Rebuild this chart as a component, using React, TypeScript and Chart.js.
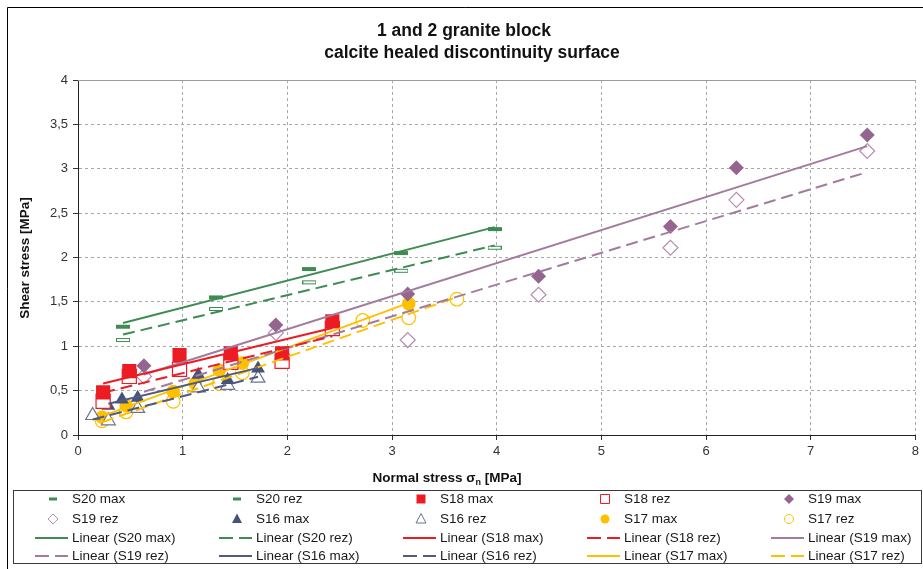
import React, { useEffect, useRef } from 'react';
import { Chart, registerables } from 'chart.js';

Chart.register(...registerables);

const FONT = '"Liberation Sans", Arial, Helvetica, sans-serif';

// ---------- data ----------
const X_TICKS = [0, 1, 2, 3, 4, 5, 6, 7, 8];
const Y_TICKS = [0, 0.5, 1, 1.5, 2, 2.5, 3, 3.5, 4];

const S20_X = [0.43, 1.32, 2.21, 3.09, 3.98];
const S20_MAX = [1.22, 1.55, 1.87, 2.05, 2.32];
const S20_REZ = [1.07, 1.42, 1.72, 1.85, 2.11];

const S18_X = [0.24, 0.49, 0.97, 1.46, 1.95, 2.43];
const S18_MAX = [0.48, 0.72, 0.9, 0.92, 0.92, 1.28];
const S18_REZ = [0.38, 0.66, 0.74, 0.82, 0.83, 1.2];

const S19_X = [0.63, 1.89, 3.15, 4.4, 5.66, 6.29, 7.54];
const S19_MAX = [0.78, 1.24, 1.59, 1.79, 2.35, 3.01, 3.38];
const S19_REZ = [0.66, 1.15, 1.07, 1.58, 2.11, 2.65, 3.2];

const S16_MAX_X = [0.29, 0.42, 0.57, 1.15, 1.43, 1.72];
const S16_MAX = [0.33, 0.4, 0.42, 0.68, 0.62, 0.75];
const S16_REZ_X = [0.14, 0.29, 0.57, 1.15, 1.43, 1.72];
const S16_REZ = [0.22, 0.16, 0.3, 0.53, 0.56, 0.64];

const S17_MAX_X = [0.23, 0.46, 0.91, 1.12, 1.35, 1.57, 3.16];
const S17_MAX = [0.2, 0.33, 0.49, 0.58, 0.73, 0.81, 1.48];
const S17_REZ_X = [0.23, 0.46, 0.91, 1.35, 1.57, 2.72, 3.16, 3.62];
const S17_REZ = [0.16, 0.26, 0.38, 0.58, 0.7, 1.29, 1.32, 1.53];

// ---------- styles ----------
const GREEN = '#3e8c53';
const RED = '#ec1c24';
const PURPLE = '#93658f';
const PURPLE_LIGHT = '#b48fb0';
const PURPLE_LINE = '#a27b9e';
const NAVY = '#46527a';
const NAVY_LIGHT = '#6b7493';
const NAVY_LINE = '#4f5b82';
const YELLOW = '#ffc000';

type Kind = 'dash' | 'square' | 'diamond' | 'triangle' | 'circle';
interface SeriesDef {
  label: string;
  xs: number[];
  ys: number[];
  kind: Kind;
  filled: boolean;
  color: string;
  lineColor: string;
  dashed: boolean;
}

const SERIES: SeriesDef[] = [
  { label: 'S20 max', xs: S20_X, ys: S20_MAX, kind: 'dash', filled: true, color: GREEN, lineColor: GREEN, dashed: false },
  { label: 'S20 rez', xs: S20_X, ys: S20_REZ, kind: 'dash', filled: false, color: GREEN, lineColor: GREEN, dashed: true },
  { label: 'S18 max', xs: S18_X, ys: S18_MAX, kind: 'square', filled: true, color: RED, lineColor: RED, dashed: false },
  { label: 'S18 rez', xs: S18_X, ys: S18_REZ, kind: 'square', filled: false, color: RED, lineColor: RED, dashed: true },
  { label: 'S19 max', xs: S19_X, ys: S19_MAX, kind: 'diamond', filled: true, color: PURPLE, lineColor: PURPLE_LINE, dashed: false },
  { label: 'S19 rez', xs: S19_X, ys: S19_REZ, kind: 'diamond', filled: false, color: PURPLE_LIGHT, lineColor: PURPLE_LINE, dashed: true },
  { label: 'S16 max', xs: S16_MAX_X, ys: S16_MAX, kind: 'triangle', filled: true, color: NAVY, lineColor: NAVY_LINE, dashed: false },
  { label: 'S16 rez', xs: S16_REZ_X, ys: S16_REZ, kind: 'triangle', filled: false, color: NAVY_LIGHT, lineColor: NAVY_LINE, dashed: true },
  { label: 'S17 max', xs: S17_MAX_X, ys: S17_MAX, kind: 'circle', filled: true, color: YELLOW, lineColor: YELLOW, dashed: false },
  { label: 'S17 rez', xs: S17_REZ_X, ys: S17_REZ, kind: 'circle', filled: false, color: YELLOW, lineColor: YELLOW, dashed: true },
];

function linearFit(xs: number[], ys: number[]) {
  const n = xs.length;
  const mx = xs.reduce((a, b) => a + b, 0) / n;
  const my = ys.reduce((a, b) => a + b, 0) / n;
  let sxy = 0;
  let sxx = 0;
  for (let i = 0; i < n; i++) {
    sxy += (xs[i] - mx) * (ys[i] - my);
    sxx += (xs[i] - mx) * (xs[i] - mx);
  }
  const b = sxy / sxx;
  return { a: my - b * mx, b };
}

function dashCanvas(filled: boolean, color: string) {
  const c = document.createElement('canvas');
  c.width = 14;
  c.height = 6;
  const g = c.getContext('2d')!;
  if (filled) {
    g.fillStyle = color;
    g.fillRect(0, 1, 14, 4);
  } else {
    g.fillStyle = '#ffffff';
    g.fillRect(0, 1, 14, 4);
    g.strokeStyle = color;
    g.lineWidth = 1;
    g.strokeRect(0.5, 1.5, 13, 3);
  }
  return c;
}

function pointStyleFor(s: SeriesDef): any {
  switch (s.kind) {
    case 'dash':
      return dashCanvas(s.filled, s.color);
    case 'square':
      return 'rect';
    case 'diamond':
      return 'rectRot';
    case 'triangle':
      return 'triangle';
    default:
      return 'circle';
  }
}

function radiusFor(kind: Kind) {
  switch (kind) {
    case 'square':
      return 10;
    case 'diamond':
      return 7.5;
    case 'triangle':
      return 8;
    case 'circle':
      return 6.8;
    default:
      return 7;
  }
}

function drawLegendMarker(ctx: CanvasRenderingContext2D, s: SeriesDef, x: number, y: number) {
  ctx.save();
  ctx.lineWidth = 1;
  ctx.beginPath();
  switch (s.kind) {
    case 'dash':
      ctx.rect(x - 4, y - 1.5, 8, 3);
      break;
    case 'square':
      ctx.rect(x - 4.5, y - 4.5, 9, 9);
      break;
    case 'diamond':
      ctx.moveTo(x, y - 5);
      ctx.lineTo(x + 5, y);
      ctx.lineTo(x, y + 5);
      ctx.lineTo(x - 5, y);
      ctx.closePath();
      break;
    case 'triangle':
      ctx.moveTo(x, y - 5.5);
      ctx.lineTo(x + 5, y + 4);
      ctx.lineTo(x - 5, y + 4);
      ctx.closePath();
      break;
    case 'circle':
      ctx.arc(x, y, 4.5, 0, Math.PI * 2);
      break;
  }
  if (s.filled || s.kind === 'dash') {
    ctx.fillStyle = s.color;
    ctx.fill();
  } else {
    ctx.fillStyle = '#ffffff';
    ctx.fill();
    ctx.strokeStyle = s.color;
    ctx.stroke();
  }
  ctx.restore();
}

const decorPlugin = {
  id: 'decor',
  afterDraw(chart: any) {
    const ctx: CanvasRenderingContext2D = chart.ctx;
    const area = chart.chartArea;
    ctx.save();

    // top border of plot area (solid grey)
    ctx.strokeStyle = '#9c9c9c';
    ctx.lineWidth = 1;
    ctx.setLineDash([]);
    ctx.beginPath();
    ctx.moveTo(area.left, Math.round(area.top) + 0.5);
    ctx.lineTo(area.right, Math.round(area.top) + 0.5);
    ctx.stroke();

    // outer chart border
    ctx.strokeStyle = '#000000';
    ctx.beginPath();
    ctx.moveTo(7.5, 569);
    ctx.lineTo(7.5, 7.5);
    ctx.lineTo(923, 7.5);
    ctx.stroke();

    // titles
    ctx.fillStyle = '#111111';
    ctx.textAlign = 'center';
    ctx.textBaseline = 'middle';
    ctx.font = `bold 17.5px ${FONT}`;
    ctx.fillText('1 and 2 granite block', 464, 31);
    ctx.fillText('calcite healed discontinuity surface', 472, 53);

    // y axis title
    ctx.save();
    ctx.translate(25, 258);
    ctx.rotate(-Math.PI / 2);
    ctx.font = `bold 13.5px ${FONT}`;
    ctx.fillText('Shear stress [MPa]', 0, 0);
    ctx.restore();

    // x axis title with subscript
    const part1 = 'Normal stress σ';
    const sub = 'n';
    const part2 = ' [MPa]';
    ctx.font = `bold 13.5px ${FONT}`;
    const w1 = ctx.measureText(part1).width;
    const w3 = ctx.measureText(part2).width;
    ctx.font = `bold 9px ${FONT}`;
    const w2 = ctx.measureText(sub).width;
    const total = w1 + w2 + w3;
    let xx = 447 - total / 2;
    ctx.textAlign = 'left';
    ctx.textBaseline = 'alphabetic';
    ctx.font = `bold 13.5px ${FONT}`;
    ctx.fillText(part1, xx, 482);
    xx += w1;
    ctx.font = `bold 9px ${FONT}`;
    ctx.fillText(sub, xx, 485);
    xx += w2;
    ctx.font = `bold 13.5px ${FONT}`;
    ctx.fillText(part2, xx, 482);

    // legend box
    ctx.strokeStyle = '#3a3a3a';
    ctx.lineWidth = 1;
    ctx.strokeRect(13.5, 490.5, 908, 73);

    const colX = [53, 237, 421, 605, 789];
    const rowY = [499, 519, 538, 556];
    const items = [
      ...SERIES.map((s) => ({ s, line: false, text: s.label })),
      ...SERIES.map((s) => ({ s, line: true, text: `Linear (${s.label})` })),
    ];
    ctx.font = `13.5px ${FONT}`;
    ctx.textBaseline = 'middle';
    ctx.textAlign = 'left';
    items.forEach((it, i) => {
      const cx = colX[i % 5];
      const cy = rowY[Math.floor(i / 5)];
      if (it.line) {
        ctx.save();
        ctx.strokeStyle = it.s.lineColor;
        ctx.lineWidth = 2;
        ctx.setLineDash(it.s.dashed ? [14, 6] : []);
        ctx.beginPath();
        ctx.moveTo(cx - 18, cy);
        ctx.lineTo(cx + 15, cy);
        ctx.stroke();
        ctx.restore();
      } else {
        drawLegendMarker(ctx, it.s, cx, cy);
      }
      ctx.fillStyle = '#1a1a1a';
      ctx.fillText(it.text, cx + 19, cy + 0.5);
    });

    ctx.restore();
  },
};

const fmt = (v: number) => String(v).replace('.', ',');

export default function App() {
  const ref = useRef<HTMLCanvasElement>(null);

  useEffect(() => {
    const canvas = ref.current;
    if (!canvas) return;

    const markerSets = SERIES.map((s) => ({
      type: 'scatter' as const,
      label: s.label,
      data: s.xs.map((x, i) => ({ x, y: s.ys[i] })),
      pointStyle: pointStyleFor(s),
      pointRadius: radiusFor(s.kind),
      pointHoverRadius: radiusFor(s.kind),
      pointBackgroundColor: s.filled ? s.color : '#ffffff',
      pointBorderColor: s.color,
      pointBorderWidth: s.filled ? 0 : 1.2,
      showLine: false,
      order: 2,
    }));

    const trendSets = SERIES.map((s) => {
      const { a, b } = linearFit(s.xs, s.ys);
      const x0 = Math.min(...s.xs);
      const x1 = Math.max(...s.xs);
      return {
        type: 'scatter' as const,
        label: `Linear (${s.label})`,
        data: [
          { x: x0, y: a + b * x0 },
          { x: x1, y: a + b * x1 },
        ],
        showLine: true,
        borderColor: s.lineColor,
        borderWidth: 2,
        borderDash: s.dashed ? [12, 6] : [],
        pointRadius: 0,
        pointHoverRadius: 0,
        fill: false,
        order: 1,
      };
    });

    const gridColor = (c: any) => (c.tick && c.tick.value === 0 ? 'rgba(0,0,0,0)' : '#a8a8a8');

    const chart = new Chart(canvas, {
      type: 'scatter',
      data: { datasets: [...markerSets, ...trendSets] as any },
      options: {
        responsive: false,
        animation: false,
        devicePixelRatio: 1,
        events: [],
        layout: { autoPadding: false, padding: { left: 0, top: 80, right: 6, bottom: 0 } },
        plugins: {
          legend: { display: false },
          tooltip: { enabled: false },
          title: { display: false },
        },
        scales: {
          x: {
            type: 'linear',
            min: 0,
            max: 8,
            afterFit: (s: any) => {
              s.height = 134;
            },
            afterBuildTicks: (s: any) => {
              s.ticks = X_TICKS.map((v) => ({ value: v }));
            },
            ticks: {
              color: '#333333',
              font: { family: FONT, size: 13 },
              padding: 4,
              maxRotation: 0,
              autoSkip: false,
              callback: (v: any) => fmt(Number(v)),
            },
            grid: {
              color: gridColor,
              lineWidth: 1,
              drawTicks: true,
              tickLength: 5,
              tickColor: '#333333',
            },
            border: { display: true, color: '#222222', width: 1, dash: [3, 3] },
          },
          y: {
            type: 'linear',
            min: 0,
            max: 4,
            afterFit: (s: any) => {
              s.width = 78;
            },
            afterBuildTicks: (s: any) => {
              s.ticks = Y_TICKS.map((v) => ({ value: v }));
            },
            ticks: {
              color: '#333333',
              font: { family: FONT, size: 13 },
              padding: 5,
              autoSkip: false,
              callback: (v: any) => fmt(Number(v)),
            },
            grid: {
              color: gridColor,
              lineWidth: 1,
              drawTicks: true,
              tickLength: 5,
              tickColor: '#333333',
            },
            border: { display: true, color: '#222222', width: 1, dash: [3, 3] },
          },
        },
      } as any,
      plugins: [decorPlugin],
    });

    return () => chart.destroy();
  }, []);

  return (
    <div style={{ position: 'fixed', left: 0, top: 0, width: 923, height: 569, background: '#ffffff' }}>
      <canvas ref={ref} width={923} height={569} style={{ display: 'block', width: 923, height: 569 }} />
    </div>
  );
}
